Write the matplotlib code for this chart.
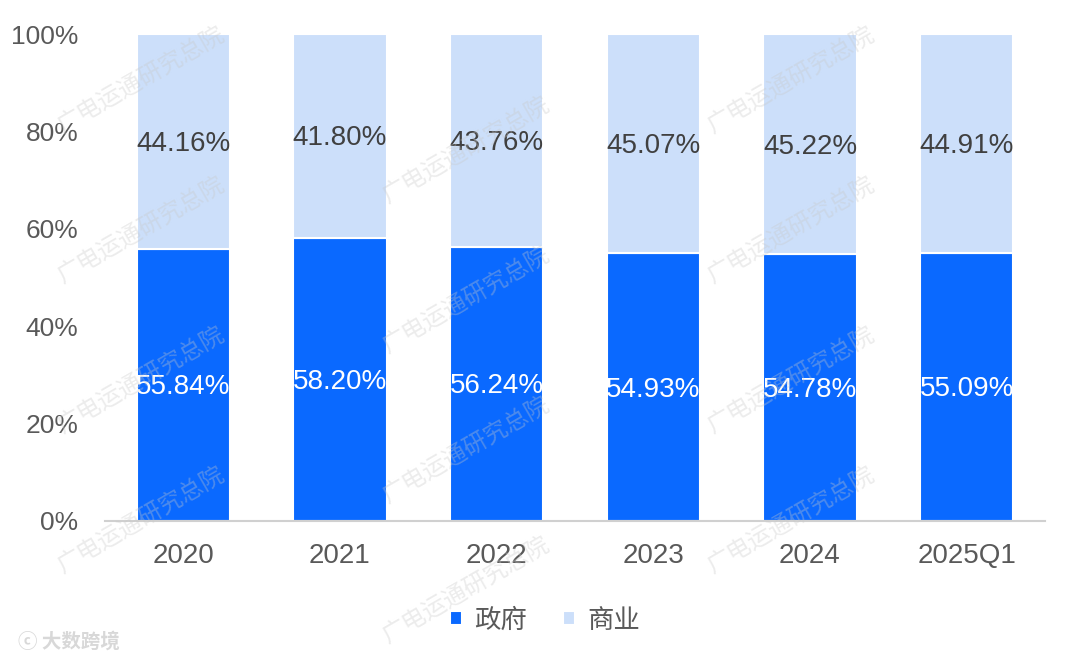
import matplotlib
matplotlib.use("Agg")
import matplotlib.pyplot as plt
from matplotlib.ticker import PercentFormatter

plt.rcParams['font.family'] = ['Liberation Sans', 'Noto Sans CJK SC', 'DejaVu Sans']

categories = ["2020", "2021", "2022", "2023", "2024", "2025Q1"]
gov = [55.84, 58.20, 56.24, 54.93, 54.78, 55.09]
biz = [44.16, 41.80, 43.76, 45.07, 45.22, 44.91]
series_names = ["政府", "商业"]
yticks = [0, 20, 40, 60, 80, 100]

c_gov = "#0A69FF"
c_biz = "#CCDFFA"

fig = plt.figure(figsize=(10.8, 6.63), dpi=100)
ax = fig.add_axes([105/1080, 1-521/663, 940/1080, 487/663])

x = list(range(len(categories)))
w = 0.595
b1 = ax.bar(x, gov, width=w, color=c_gov, edgecolor="white", linewidth=1.5, label=series_names[0], zorder=2)
b2 = ax.bar(x, biz, width=w, bottom=gov, color=c_biz, edgecolor="white", linewidth=1.5, label=series_names[1], zorder=2)

for i in x:
    ax.text(i, gov[i] * 0.5 - 0.5, f"{gov[i]:.2f}%", ha="center", va="center",
            color="white", fontsize=20, zorder=3)
    ax.text(i, gov[i] + biz[i] * 0.5 - 0.5, f"{biz[i]:.2f}%", ha="center", va="center",
            color="#404040", fontsize=20, zorder=3)

ax.set_xlim(-0.5, len(categories) - 0.5)
ax.set_ylim(0, 100)
ax.set_yticks(yticks)
ax.yaxis.set_major_formatter(PercentFormatter(decimals=0))
ax.set_xticks(x)
ax.set_xticklabels(categories)
ax.tick_params(axis="y", length=0, labelsize=19, labelcolor="#595959", pad=19)
ax.tick_params(axis="x", length=0, labelsize=20, labelcolor="#595959", pad=16)
for s in ["top", "right", "left"]:
    ax.spines[s].set_visible(False)
ax.spines["bottom"].set_color("#D0D0D0")
ax.spines["bottom"].set_linewidth(1.5)

leg = fig.legend(handles=[b1, b2], labels=series_names, loc="center", bbox_to_anchor=(545/1080, 1-620/663),
                 ncol=2, frameon=False, handlelength=0.45, handleheight=0.45,
                 handletextpad=0.45, columnspacing=1.4,
                 prop={'family': ['Noto Sans CJK SC'], 'size': 19})
for t in leg.get_texts():
    t.set_color("#595959")

# watermarks (kept fully inside the figure)
wm = "广电运通研究总院"
cols = [140, 465, 790]
for ci, cx in enumerate(cols):
    rows = [80, 230, 380, 520] if ci % 2 == 0 else [150, 300, 450, 590]
    for cy in rows:
        fig.text(cx / 1080, 1 - cy / 663, wm, rotation=30, ha="center", va="center",
                 fontsize=17, color="#C8C8C8", alpha=0.35,
                 family=['Noto Sans CJK SC'], zorder=10)

fig.text(18 / 1080, 1 - 642 / 663, "ⓒ 大数跨境", ha="left", va="center", fontsize=14,
         color="#D8D8D8", family=['Noto Sans CJK SC', 'DejaVu Sans'], fontweight="bold")

fig.savefig("out.png", dpi=100)
